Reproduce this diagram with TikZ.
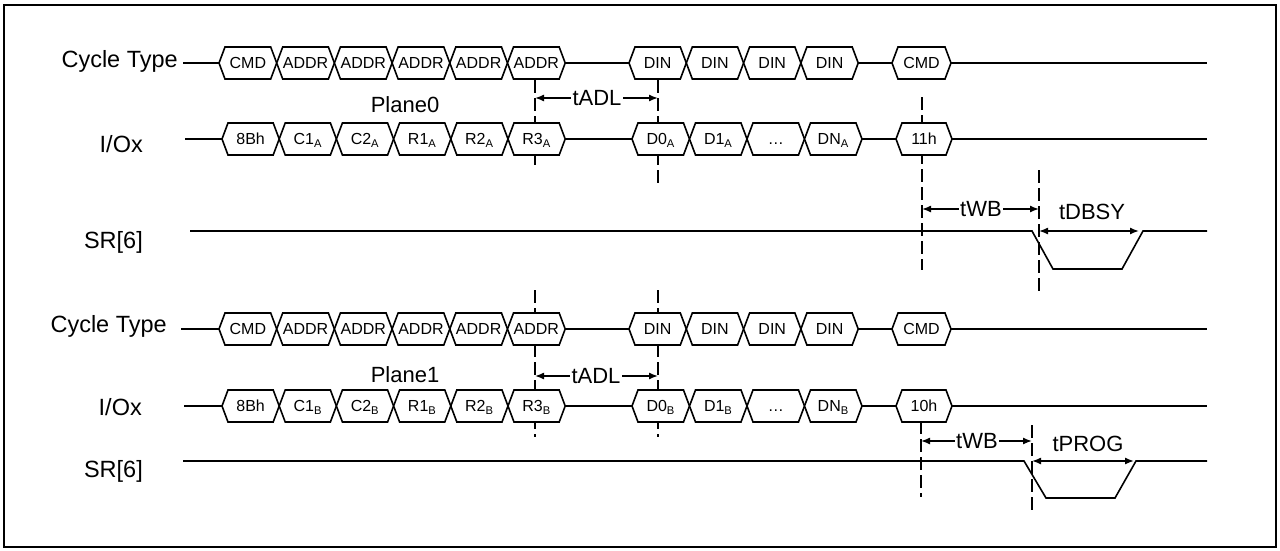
\documentclass[tikz,border=0pt]{standalone}
\usepackage{fontspec}
\setmainfont{Liberation Sans}
\usetikzlibrary{arrows.meta,calc}

\tikzset{
  sig/.style={line width=1.6pt},
  bus/.style={line width=1.6pt, fill=white, line join=miter},
  guide/.style={line width=1.6pt, dash pattern=on 13pt off 5pt},
  dimline/.style={line width=1.4pt, {Latex[length=9pt,width=7pt]}-{Latex[length=9pt,width=7pt]}},
  halfdim/.style={line width=1.4pt, -{Latex[length=9pt,width=7pt]}},
  rowlbl/.style={font=\fontsize{23.5}{25}\selectfont, anchor=base east, inner sep=0pt},
  tlbl/.style={font=\fontsize{22}{24}\selectfont, inner sep=1.5pt},
  boxlbl/.style={font=\fontsize{16}{18}\selectfont, anchor=base, inner sep=0pt},
}

\begin{document}
\begin{tikzpicture}[x=1pt,y=-1pt]
    \useasboundingbox (0,0) rectangle (1280,551);
    % 外框
    \draw[line width=1.6pt] (4,5) rectangle (1276,547);

    % 虚线
    \coordinate (gA1t) at (535,80);   \coordinate (gA1b) at (535,168);
    \coordinate (gA2t) at (658,80);   \coordinate (gA2b) at (658,183);
    \coordinate (gA3t) at (922,97);   \coordinate (gA3b) at (922,270);
    \coordinate (gA4t) at (1039,170); \coordinate (gA4b) at (1039,292);
    \coordinate (gB1t) at (535,290);  \coordinate (gB1b) at (535,437);
    \coordinate (gB2t) at (658,290);  \coordinate (gB2b) at (658,437);
    \coordinate (gB3t) at (921,421);  \coordinate (gB3b) at (921,497);
    \coordinate (gB4t) at (1032,425); \coordinate (gB4b) at (1032,512);
    \foreach \g in {A1,A2,A3,A4,B1,B2,B3,B4} {
        \draw[guide] (g\g t) -- (g\g b);
    }

    % 信号线
    \draw[sig] (183,63) -- (1207,63);
    \draw[sig] (185,139) -- (1207,139);
    \draw[sig] (181,329) -- (1207,329);
    \draw[sig] (184,406) -- (1207,406);
    \draw[sig] (190,231) -- (1032,231) -- (1053,269) -- (1122,269) -- (1143,231) -- (1207,231);
    \draw[sig] (183,461) -- (1024,461) -- (1046,498) -- (1115,498) -- (1136,461) -- (1207,461);

    % Cycle Type 总线
    \foreach \y/\r in {63/A,329/B} {
        \foreach \t [count=\i from 0] in {CMD,ADDR,ADDR,ADDR,ADDR,ADDR} {
            \pgfmathsetmacro\xa{219+57.7*\i}
            \pgfmathsetmacro\xb{\xa+57.7}
            \draw[bus] (\xa,\y) -- (\xa+6,\y-16) -- (\xb-6,\y-16) -- (\xb,\y) -- (\xb-6,\y+16) -- (\xa+6,\y+16) -- cycle;
            \node[boxlbl] (ct\r a\i) at ({(\xa+\xb)/2},\y+5.8) {\t};
        }
        \foreach \t [count=\i from 0] in {DIN,DIN,DIN,DIN} {
            \pgfmathsetmacro\xa{629+57.3*\i}
            \pgfmathsetmacro\xb{\xa+57.3}
            \draw[bus] (\xa,\y) -- (\xa+6,\y-16) -- (\xb-6,\y-16) -- (\xb,\y) -- (\xb-6,\y+16) -- (\xa+6,\y+16) -- cycle;
            \node[boxlbl] (ct\r d\i) at ({(\xa+\xb)/2},\y+5.8) {\t};
        }
        \draw[bus] (892,\y) -- (898,\y-16) -- (945,\y-16) -- (951,\y) -- (945,\y+16) -- (898,\y+16) -- cycle;
        \node[boxlbl] (ct\r c) at (921.5,\y+5.8) {CMD};
    }

    % I/Ox 总线
    \foreach \y/\r/\c in {139/A/11h,406/B/10h} {
        \foreach \t [count=\i from 0] in {8Bh,C1,C2,R1,R2,R3} {
            \pgfmathsetmacro\xa{222+57.2*\i}
            \pgfmathsetmacro\xb{\xa+57.2}
            \draw[bus] (\xa,\y) -- (\xa+6,\y-16) -- (\xb-6,\y-16) -- (\xb,\y) -- (\xb-6,\y+16) -- (\xa+6,\y+16) -- cycle;
            \ifnum\i=0
                \node[boxlbl] (io\r a\i) at ({(\xa+\xb)/2},\y+5.8) {\t};
            \else
                \node[boxlbl] (io\r a\i) at ({(\xa+\xb)/2},\y+5.8) {\t\textsubscript{\r}};
            \fi
        }
        \foreach \t [count=\i from 0] in {D0\textsubscript{\r},D1\textsubscript{\r},\ldots,DN\textsubscript{\r}} {
            \pgfmathsetmacro\xa{632+57.5*\i}
            \pgfmathsetmacro\xb{\xa+57.5}
            \draw[bus] (\xa,\y) -- (\xa+6,\y-16) -- (\xb-6,\y-16) -- (\xb,\y) -- (\xb-6,\y+16) -- (\xa+6,\y+16) -- cycle;
            \node[boxlbl] (io\r d\i) at ({(\xa+\xb)/2},\y+5.8) {\t};
        }
        \draw[bus] (896,\y) -- (902,\y-16) -- (946,\y-16) -- (952,\y) -- (946,\y+16) -- (902,\y+16) -- cycle;
        \node[boxlbl] (io\r c) at (924,\y+5.8) {\c};
    }

    % 左侧标注
    \node[rowlbl] (ctA) at (178,67) {Cycle Type};
    \node[rowlbl] (ioA) at (143,152) {I/Ox};
    \node[rowlbl] (srA) at (143,248) {SR[6]};
    \node[rowlbl] (ctB) at (167,332) {Cycle Type};
    \node[rowlbl] (ioB) at (142,415) {I/Ox};
    \node[rowlbl] (srB) at (143,477) {SR[6]};
    \node[tlbl, anchor=base] (pl0) at (405,113) {Plane0};
    \node[tlbl, anchor=base] (pl1) at (405,382) {Plane1};

    % 时间参数
    \node[tlbl] (tadlA) at (597,98) {tADL};
    \draw[halfdim] (tadlA.west) -- (tadlA.west -| gA1t);
    \draw[halfdim] (tadlA.east) -- (tadlA.east -| gA2t);
    \node[tlbl] (twbA) at (981,209) {tWB};
    \draw[halfdim] (twbA.west) -- (twbA.west -| gA3t);
    \draw[halfdim] (twbA.east) -- (twbA.east -| gA4t);
    \node[tlbl] (tdbsy) at (1092,212) {tDBSY};
    \coordinate (dbsyR) at (1139,231);
    \draw[dimline] (gA4t |- dbsyR) -- (dbsyR);

    \node[tlbl] (tadlB) at (596,376) {tADL};
    \draw[halfdim] (tadlB.west) -- (tadlB.west -| gB1t);
    \draw[halfdim] (tadlB.east) -- (tadlB.east -| gB2t);
    \node[tlbl] (twbB) at (977,441) {tWB};
    \draw[halfdim] (twbB.west) -- (twbB.west -| gB3t);
    \draw[halfdim] (twbB.east) -- (twbB.east -| gB4t);
    \node[tlbl] (tprog) at (1088,444) {tPROG};
    \coordinate (progR) at (1134,461);
    \draw[dimline] (gB4t |- progR) -- (progR);
\end{tikzpicture}
\end{document}
